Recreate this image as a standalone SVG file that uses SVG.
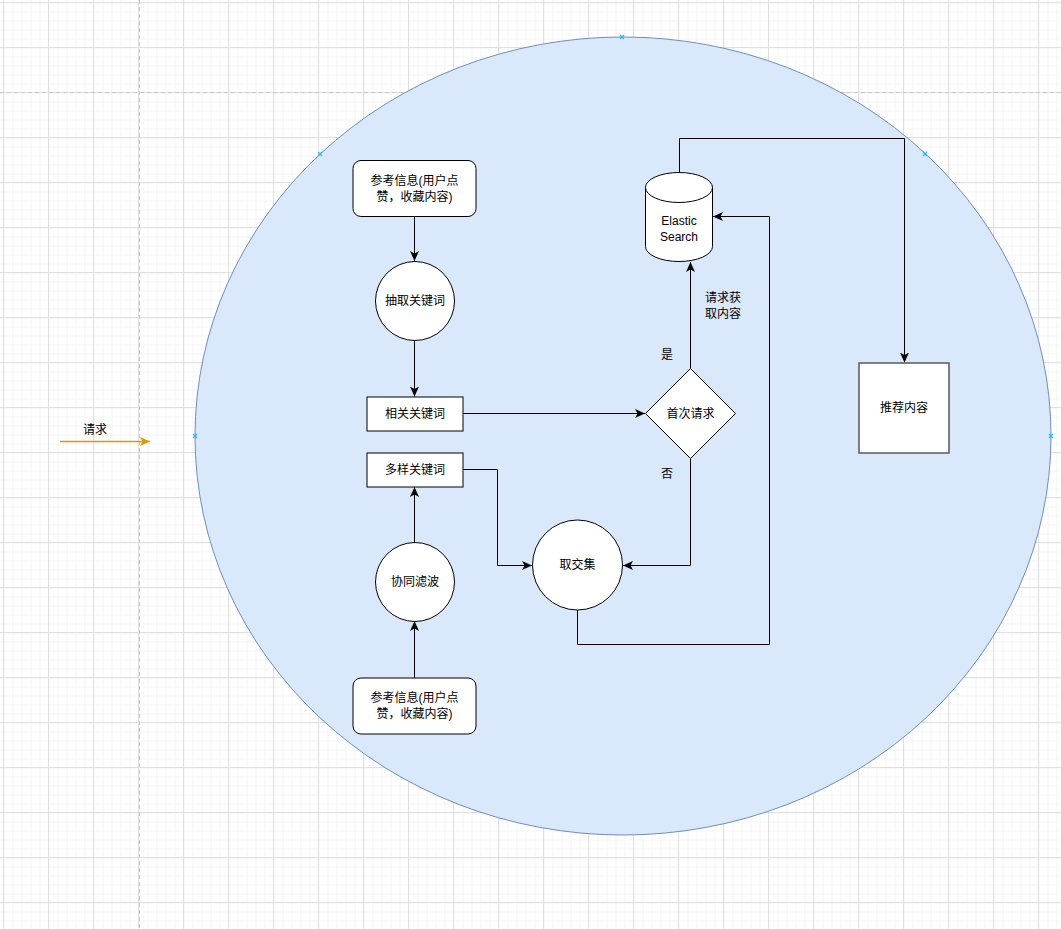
<svg xmlns="http://www.w3.org/2000/svg" width="1061" height="929" viewBox="0 0 1061 929">
<style>
text{font-family:"Liberation Sans","Noto Sans CJK SC",sans-serif;font-size:12px;fill:#000;text-anchor:middle;dominant-baseline:central}
.shape{fill:#fff;stroke:#000;stroke-width:1}
.edge{fill:none;stroke:#000;stroke-width:1}
</style>
<defs>
<pattern id="minor" patternUnits="userSpaceOnUse" x="3.5" y="2.5" width="9" height="9">
<path d="M0 0.5H9M0.5 0V9" stroke="#f5f5f5" stroke-width="1" fill="none"/>
</pattern>
<pattern id="major" patternUnits="userSpaceOnUse" x="3" y="2" width="45" height="45">
<path d="M0 0.5H45M0.5 0V45" stroke="#e0e0e0" stroke-width="1" fill="none"/>
</pattern>
<marker id="arr" markerUnits="userSpaceOnUse" markerWidth="12" markerHeight="10" refX="10" refY="4.5" orient="auto">
<path d="M0,0 L10,4.5 L0,9 L2.5,4.5 Z" fill="#000"/>
</marker>
<marker id="arrO" markerUnits="userSpaceOnUse" markerWidth="12" markerHeight="10" refX="10" refY="4.5" orient="auto">
<path d="M0,0 L10,4.5 L0,9 L2.5,4.5 Z" fill="#d79b00"/>
</marker>
</defs>
<rect width="1061" height="929" fill="#fff"/>
<rect width="1061" height="929" fill="url(#minor)"/>
<rect width="1061" height="929" fill="url(#major)"/>
<path d="M139.5 0V929M0 92.5H1061" stroke="#c8c8c8" stroke-width="1" stroke-dasharray="4 3" fill="none"/>

<g id="container">
<ellipse cx="623" cy="436" rx="428" ry="399" fill="#dae8fc" stroke="#6c8ebf" stroke-width="1"/>
<g stroke="#29b6f2" stroke-width="1.2" fill="none">
<path d="M620 35L624 39M624 35L620 39"/>
<path d="M318 152L322 156M322 152L318 156"/>
<path d="M923 152L927 156M927 152L923 156"/>
<path d="M193 434L197 438M197 434L193 438"/>
<path d="M1049 434L1053 438M1053 434L1049 438"/>
</g>
</g>

<g id="connectors">
<path class="edge" d="M414.5 216.5V261" marker-end="url(#arr)"/>
<path class="edge" d="M414.5 341V396.5" marker-end="url(#arr)"/>
<path class="edge" d="M463 413.5H645" marker-end="url(#arr)"/>
<path class="edge" d="M690.5 368.5V262" marker-end="url(#arr)"/>
<path class="edge" d="M679.5 172V138.5H904.5V362.5" marker-end="url(#arr)"/>
<path class="edge" d="M463 469.5H497.5V565.5H532" marker-end="url(#arr)"/>
<path class="edge" d="M690.5 458.5V565.5H623" marker-end="url(#arr)"/>
<path class="edge" d="M577.5 610V644.5H769.5V216.5H713" marker-end="url(#arr)"/>
<path class="edge" d="M414.5 543V487" marker-end="url(#arr)"/>
<path class="edge" d="M414.5 678V621" marker-end="url(#arr)"/>
<path d="M60 441.5H150" fill="none" stroke="#d79b00" stroke-width="1.5" marker-end="url(#arrO)"/>
<text x="667" y="355">是</text>
<text x="667" y="474">否</text>
<text x="723" y="298">请求获</text>
<text x="723" y="314">取内容</text>
<text x="95" y="430">请求</text>
</g>

<g id="ref-top">
<rect class="shape" x="353" y="160.5" width="123" height="56" rx="8"/>
<text x="414.5" y="181">参考信息(用户点</text>
<text x="414.5" y="197">赞，收藏内容)</text>
</g>
<g id="extract">
<circle class="shape" cx="415" cy="301" r="39.5"/>
<text x="415" y="301">抽取关键词</text>
</g>
<g id="related">
<rect class="shape" x="367" y="397" width="96" height="34"/>
<text x="415" y="414">相关关键词</text>
</g>
<g id="diverse">
<rect class="shape" x="367" y="453" width="96" height="34"/>
<text x="415" y="470">多样关键词</text>
</g>
<g id="first">
<path class="shape" d="M690.5 368.5L735.5 413.5L690.5 458.5L645.5 413.5Z"/>
<text x="690.5" y="413.5">首次请求</text>
</g>
<g id="es">
<path class="shape" d="M645.5 187.5A33.5 15 0 0 1 712.5 187.5V246.5A33.5 15 0 0 1 645.5 246.5Z"/>
<path class="edge" d="M645.5 187.5A33.5 15 0 0 0 712.5 187.5"/>
<text x="679" y="221">Elastic</text>
<text x="679" y="237">Search</text>
</g>
<g id="recommend">
<rect x="859" y="363" width="90" height="90" fill="#fff" stroke="#595959" stroke-width="1.5"/>
<text x="904" y="408">推荐内容</text>
</g>
<g id="intersect">
<circle class="shape" cx="577.5" cy="565" r="45"/>
<text x="577.5" y="565">取交集</text>
</g>
<g id="cf">
<circle class="shape" cx="415" cy="582" r="39.5"/>
<text x="415" y="582">协同滤波</text>
</g>
<g id="ref-bottom">
<rect class="shape" x="353" y="678" width="123" height="56" rx="8"/>
<text x="414.5" y="698">参考信息(用户点</text>
<text x="414.5" y="714">赞，收藏内容)</text>
</g>
</svg>
